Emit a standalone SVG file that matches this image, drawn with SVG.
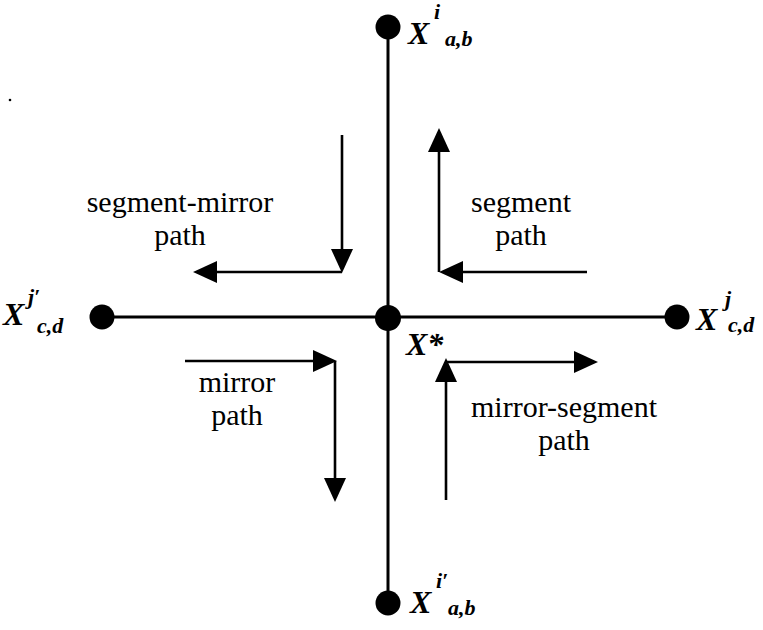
<svg xmlns="http://www.w3.org/2000/svg" width="763" height="630" viewBox="0 0 763 630">
<style>
.axis{stroke:#000;stroke-width:3;fill:none}
.arr{stroke:#000;stroke-width:2.6;fill:none;marker-end:url(#ah)}
.dot{fill:#000}
.lbl{font-family:"Liberation Serif","Times New Roman",serif;font-size:30px;text-anchor:middle;fill:#000}
.X{font-family:"Liberation Serif","Times New Roman",serif;font-style:italic;font-weight:bold;font-size:32px;fill:#000}
.s{font-family:"Liberation Serif","Times New Roman",serif;font-style:italic;font-weight:bold;font-size:22px;fill:#000}
</style>
<defs>
<marker id="ah" viewBox="0 0 24 22" refX="20" refY="11" markerWidth="24" markerHeight="22" markerUnits="userSpaceOnUse" orient="auto">
<path d="M0,0 L24,11 L0,22 z" fill="#000"/>
</marker>
</defs>
<rect width="763" height="630" fill="#fff"/>
<circle cx="10" cy="100" r="1.3" fill="#000"/>
<g id="axes">
<line class="axis" x1="388" y1="27" x2="388" y2="604"/>
<line class="axis" x1="104" y1="317" x2="677" y2="317"/>
</g>
<g id="connectors">
<line class="arr" x1="342" y1="135" x2="342" y2="269"/>
<line class="arr" x1="342" y1="272" x2="197" y2="272"/>
<line class="arr" x1="587" y1="272" x2="443" y2="272"/>
<line class="arr" x1="439" y1="272" x2="439" y2="132"/>
<line class="arr" x1="185" y1="361" x2="333" y2="361"/>
<line class="arr" x1="335" y1="361" x2="335" y2="498"/>
<line class="arr" x1="446" y1="500" x2="446" y2="362"/>
<line class="arr" x1="446" y1="362" x2="594" y2="362"/>
</g>
<g id="node-top">
<circle class="dot" cx="388" cy="27" r="12.5"/>
<text class="X" x="408" y="44">X</text>
<text class="s" x="434" y="19">i</text>
<text class="s" x="445" y="46">a,b</text>
</g>
<g id="node-right">
<circle class="dot" cx="677" cy="317" r="12.5"/>
<text class="X" x="696" y="330">X</text>
<text class="s" x="725" y="306">j</text>
<text class="s" x="728" y="332">c,d</text>
</g>
<g id="node-left">
<circle class="dot" cx="102" cy="317" r="12.5"/>
<text class="X" x="3" y="325">X</text>
<text class="s" x="28" y="304">j′</text>
<text class="s" x="37" y="333">c,d</text>
</g>
<g id="node-bottom">
<circle class="dot" cx="388" cy="603" r="12.5"/>
<text class="X" x="410" y="613">X</text>
<text class="s" x="436" y="588">i′</text>
<text class="s" x="448" y="615">a,b</text>
</g>
<g id="node-center">
<circle class="dot" cx="388" cy="318" r="13"/>
<text class="X" x="406" y="355">X*</text>
</g>
<g id="labels">
<text class="lbl" x="180" y="212">segment-mirror</text>
<text class="lbl" x="180" y="245">path</text>
<text class="lbl" x="521" y="212">segment</text>
<text class="lbl" x="521" y="245">path</text>
<text class="lbl" x="237" y="392">mirror</text>
<text class="lbl" x="237" y="425">path</text>
<text class="lbl" x="564" y="417">mirror-segment</text>
<text class="lbl" x="564" y="450">path</text>
</g>
</svg>
